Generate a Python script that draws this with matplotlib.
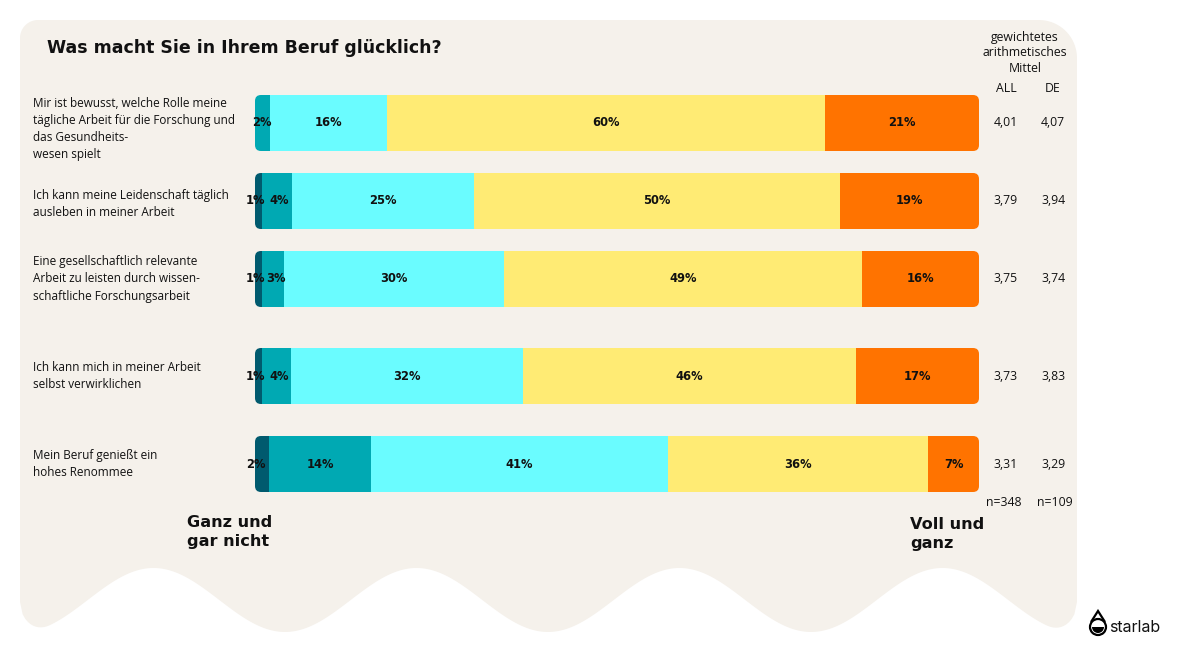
import matplotlib.pyplot as plt
import numpy as np
from matplotlib.patches import FancyBboxPatch, Polygon, Circle, Wedge

# Data
questions = [
    "Mir ist bewusst, welche Rolle meine\ntägliche Arbeit für die Forschung und\ndas Gesundheits-\nwesen spielt",
    "Ich kann meine Leidenschaft täglich\nausleben in meiner Arbeit",
    "Eine gesellschaftlich relevante\nArbeit zu leisten durch wissen-\nschaftliche Forschungsarbeit",
    "Ich kann mich in meiner Arbeit\nselbst verwirklichen",
    "Mein Beruf genießt ein\nhohes Renommee",
]
gar_nicht = [0, 1, 1, 1, 2]
eher_nicht = [2, 4, 3, 4, 14]
teils = [16, 25, 30, 32, 41]
eher = [60, 50, 49, 46, 36]
voll = [21, 19, 16, 17, 7]
mean_all = [4.01, 3.79, 3.75, 3.73, 3.31]
mean_de = [4.07, 3.94, 3.74, 3.83, 3.29]
n_all = 348
n_de = 109

colors = ["#005a6e", "#00a9b3", "#6afcff", "#ffeb74", "#ff7300"]
bg_color = "#f5f1eb"

# layout (pixel rows of the bars)
row_y = [123, 201, 279, 376, 464]
label_y = [129, 204, 279, 376, 464]
bar_h = 56

W, H = 1191, 670
fig = plt.figure(figsize=(W / 100, H / 100), dpi=100)
fig.patch.set_facecolor("white")

# background axes in pixel units
bg = fig.add_axes([0, 0, 1, 1])
bg.set_xlim(0, W)
bg.set_ylim(H, 0)
bg.axis("off")

# wavy background shape
left, right, top = 20, 1077, 20
r_tl, r_tr, r_b = 18, 38, 30
pts = []
for a in np.linspace(np.pi, 1.5 * np.pi, 20):
    pts.append((left + r_tl + r_tl * np.cos(a), top + r_tl + r_tl * np.sin(a)))
for a in np.linspace(1.5 * np.pi, 2 * np.pi, 20):
    pts.append((right - r_tr + r_tr * np.cos(a), top + r_tr + r_tr * np.sin(a)))
xs = np.linspace(right, left, 400)
for x in xs:
    yb = 600 + 32 * np.cos(2 * np.pi * (x - 285) / 263)
    d = min(x - left, right - x)
    if d < r_b:
        yb -= r_b - np.sqrt(r_b ** 2 - (r_b - d) ** 2)
    pts.append((x, yb))
bg.add_patch(Polygon(pts, closed=True, facecolor=bg_color, edgecolor="none"))

# title
bg.text(47, 48, "Was macht Sie in Ihrem Beruf glücklich?", fontsize=12.5,
        fontweight="bold", family="DejaVu Sans", va="center", ha="left", color="#111111")

# question labels
for q, y in zip(questions, label_y):
    bg.text(33, y, q, fontsize=8.5, family="Open Sans", va="center", ha="left",
            linespacing=1.42, color="#111111")

# right columns
rc = dict(fontsize=8.8, family="Open Sans", ha="center", va="center", color="#111111")
bg.text(1025, 53, "gewichtetes\narithmetisches\nMittel", linespacing=1.3, **rc)
bg.text(1006, 89, "ALL", **rc)
bg.text(1053, 89, "DE", **rc)
for y, a, d in zip(row_y, mean_all, mean_de):
    bg.text(1006, y, f"{a:.2f}".replace(".", ","), **rc)
    bg.text(1053, y, f"{d:.2f}".replace(".", ","), **rc)
bg.text(1004, 502, f"n={n_all}", **rc)
bg.text(1055, 502, f"n={n_de}", **rc)

# scale end labels
bg.text(187, 532, "Ganz und\ngar nicht", fontsize=11.6, fontweight="bold", family="DejaVu Sans",
        ha="left", va="center", linespacing=1.35, color="#111111")
bg.text(910, 534, "Voll und\nganz", fontsize=11.6, fontweight="bold", family="DejaVu Sans",
        ha="left", va="center", linespacing=1.35, color="#111111")

# starlab logo
bg.add_patch(Circle((1098, 627), 8, facecolor="white", edgecolor="black", lw=1.6))
bg.add_patch(Wedge((1098, 627), 6, 0, 180, facecolor="black", edgecolor="none"))
bg.add_patch(Polygon([(1091, 622), (1098, 611), (1105, 622)], closed=False,
                     fill=False, edgecolor="black", lw=1.6))
bg.text(1109, 627, "starlab", fontsize=11.5, family="Inter", ha="left", va="center",
        color="#111111")

# bar axes: x in percent, y in pixel rows
ax = fig.add_axes([255 / W, 0, 724 / W, 1])
ax.set_xlim(0, 100)
ax.set_ylim(H, 0)
ax.axis("off")
ax.patch.set_alpha(0)

series = np.array([gar_nicht, eher_nicht, teils, eher, voll], dtype=float)
totals = series.sum(axis=0)
shares = series / totals * 100
xunit = 724 / 100.0

for i, y in enumerate(row_y):
    clip = FancyBboxPatch((0, y - bar_h / 2), 100, bar_h,
                          boxstyle=f"round,pad=0,rounding_size={6 / xunit}",
                          mutation_aspect=xunit, transform=ax.transData,
                          facecolor="none", edgecolor="none")
    ax.add_patch(clip)
    lefts = np.concatenate([[0], np.cumsum(shares[:, i])[:-1]])
    bars = ax.barh([y] * 5, shares[:, i], left=lefts, height=bar_h, color=colors,
                   edgecolor="none")
    for b in bars:
        b.set_clip_path(clip)
    for j in range(5):
        v = series[j, i]
        if v <= 0:
            continue
        cx = lefts[j] + shares[j, i] / 2
        if j == 0 and v <= 2:
            cx = 0.1
        elif j == 1 and v <= 4 and series[0, i] > 0:
            cx += 0.35
        ax.text(cx, y, f"{int(v)}%", fontsize=8.3, fontweight="bold", family="DejaVu Sans",
                ha="center", va="center", color="#111111")

fig.savefig("out.png", dpi=100)
